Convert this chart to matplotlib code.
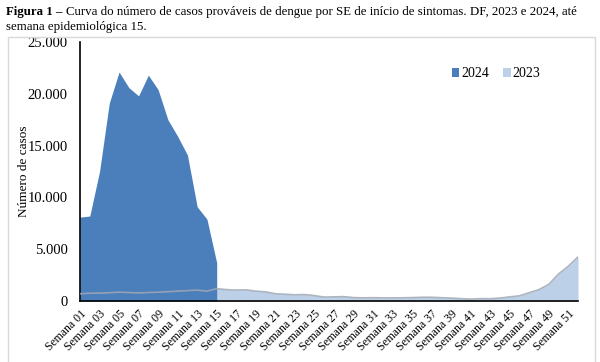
import numpy as np
import matplotlib.pyplot as plt
from matplotlib.patches import Rectangle
from matplotlib.ticker import FuncFormatter

plt.rcParams['font.family'] = ['Liberation Serif', 'DejaVu Serif']

weeks = np.arange(1, 53)

# casos 2024 (ate SE 15)
casos_2024 = [8100, 8200, 12500, 19100, 22100, 20600, 19800, 21800, 20400, 17500,
              15900, 14100, 9100, 7900, 3700]

# casos 2023
casos_2023 = [700, 750, 760, 800, 850, 820, 780, 820, 850, 900,
              950, 1000, 1050, 950, 1190, 1100, 1050, 1080, 950, 880,
              700, 650, 600, 620, 520, 380, 400, 420, 330, 300,
              320, 300, 300, 310, 330, 360, 360, 320, 280, 230,
              180, 230, 220, 280, 400, 500, 800, 1100, 1600, 2600,
              3350, 4250]

tick_weeks = list(range(1, 53, 2))
tick_labels = ["Semana %02d" % w for w in tick_weeks]

fig = plt.figure(figsize=(6, 3.62), dpi=100)

# moldura do grafico
fig.patches.append(Rectangle((8/600, -0.01), 587/600, 1 - 37/362 + 0.01,
                             transform=fig.transFigure, fill=False,
                             edgecolor='#d9d9d9', linewidth=1))

ax = fig.add_axes([80/600, 1 - 301/362, 498/600, 259/362])

w24 = weeks[:len(casos_2024)]
ax.fill_between(weeks, casos_2023, color='#bcd0e8', linewidth=0, label='2023', zorder=1)
ax.fill_between(w24, casos_2024, color='#4a7fbb', linewidth=0, label='2024', zorder=2)
ax.plot(weeks, casos_2023, color='#a0a8b4', linewidth=1.2, alpha=0.85, zorder=3)

ax.set_xlim(1, 52)
ax.set_ylim(0, 25000)
ax.set_yticks(range(0, 25001, 5000))
ax.yaxis.set_major_formatter(FuncFormatter(lambda v, p: "{:,.0f}".format(v).replace(",", ".")))
ax.set_xticks(tick_weeks)
ax.set_xticklabels(tick_labels, rotation=45, ha='right', rotation_mode='anchor', fontsize=8.5)
ax.tick_params(axis='both', length=0)
ax.tick_params(axis='y', labelsize=10.5, pad=9)
ax.tick_params(axis='x', pad=5)

for s in ['top', 'right']:
    ax.spines[s].set_visible(False)
ax.spines['left'].set_color('black')
ax.spines['bottom'].set_color('black')
ax.spines['left'].set_linewidth(1.2)
ax.spines['bottom'].set_linewidth(1.2)

ax.set_ylabel("Número de casos", fontsize=9.5)
ax.yaxis.set_label_coords(-0.1, 0.5)

handles, labels = ax.get_legend_handles_labels()
order = [1, 0]
ax.legend([handles[i] for i in order], [labels[i] for i in order],
          loc='upper right', bbox_to_anchor=(0.95, 0.95), ncol=2, frameon=False,
          fontsize=10, handlelength=0.55, handleheight=0.55, handletextpad=0.15,
          columnspacing=1.0)

# titulo
fs = 9.3
t1 = fig.text(6/600, 1 - 15/362, "Figura 1 –", fontsize=fs, fontweight='bold')
fig.canvas.draw()
bb = t1.get_window_extent()
fig.text(bb.x1 / 600 + 3/600, 1 - 15/362,
         "Curva do número de casos prováveis de dengue por SE de início de sintomas. DF, 2023 e 2024, até",
         fontsize=fs)
fig.text(6/600, 1 - 30/362, "semana epidemiológica 15.", fontsize=fs)

plt.savefig("out.png", dpi=100)
